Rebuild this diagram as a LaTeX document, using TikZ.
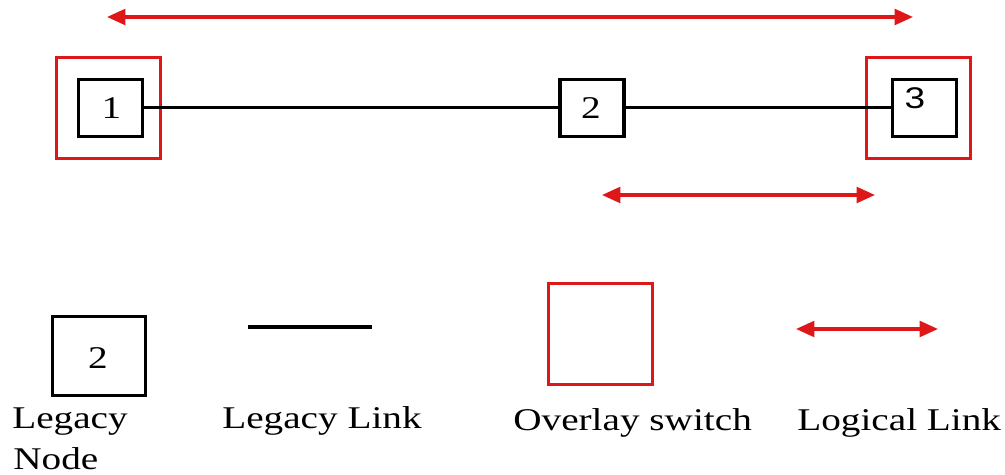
\documentclass[tikz,border=0pt]{standalone}
\usepackage{fontspec}
\setmainfont{Liberation Serif}
\newfontfamily\digitsans{Liberation Sans}
\usetikzlibrary{arrows.meta}
\definecolor{ovred}{RGB}{222,24,24}
% all lettering is set a little wide
\newcommand{\widetxt}[1]{\scalebox{1.24}[1]{#1}}
\begin{document}
\begin{tikzpicture}[x=0.02cm,y=-0.02cm,
  legacybox/.style={draw=black,line width=1.8pt,minimum width=1.28cm,minimum height=1.14cm,inner sep=0pt},
  switchbox/.style={draw=ovred,line width=1.8pt,minimum width=2.08cm,minimum height=2.02cm,inner sep=0pt},
  legacylink/.style={draw=black,line width=1.7pt},
  logical/.style={draw=ovred,line width=1.8pt,{Triangle[length=10.5pt,width=9pt]}-{Triangle[length=10.5pt,width=9pt]}},
  digit/.style={inner sep=0pt,font=\fontsize{18}{22}\selectfont},
  caption/.style={inner sep=0pt,anchor=base west,font=\fontsize{18}{22}\selectfont}]
\useasboundingbox (0,0) rectangle (1005,475);

% overlay switches around the end nodes
\node[switchbox] (s1) at (108.5,108) {};
\node[switchbox] (s3) at (918.5,108) {};

% legacy nodes
\node[legacybox] (n1) at (110.5,108) {};
\node[legacybox] (n2) at (592,108) {};
\node[legacybox] (n3) at (924.5,108) {};
\node[digit] (l1) at (111.5,108) {\widetxt{1}};
\node[digit] (l2) at (591,108) {\widetxt{2}};
\node[digit,font=\digitsans\fontsize{17}{20}\selectfont] (l3) at (915,98) {\widetxt{3}};

% legacy links
\draw[legacylink] (n1.east) -- (n2.west);
\draw[legacylink] (n2.east) -- (n3.west);

% logical links
\coordinate (ta) at (107,17);
\coordinate (tb) at (913,17);
\draw[logical] (ta) -- (tb);
\coordinate (ma) at (602,195);
\coordinate (mb) at (875,195);
\draw[logical] (ma) -- (mb);

% legend
\node[legacybox,minimum width=1.86cm,minimum height=1.58cm] (kn) at (99,356) {};
\node[digit] (kl) at (98,358) {\widetxt{2}};
\coordinate (ka) at (248,327);
\coordinate (kb) at (372,327);
\draw[legacylink,line width=1.9pt] (ka) -- (kb);
\node[switchbox] (ks) at (600.5,334) {};
\coordinate (kc) at (796,329);
\coordinate (kd) at (938,329);
\draw[logical] (kc) -- (kd);

\node[caption] (c1) at (12,429) {\widetxt{Legacy}};
\node[caption] (c1b) at (13,470) {\widetxt{Node}};
\node[caption] (c2) at (222,429) {\widetxt{Legacy Link}};
\node[caption] (c3) at (513,431) {\widetxt{Overlay switch}};
\node[caption] (c4) at (797,431) {\widetxt{Logical Link}};
\end{tikzpicture}
\end{document}
